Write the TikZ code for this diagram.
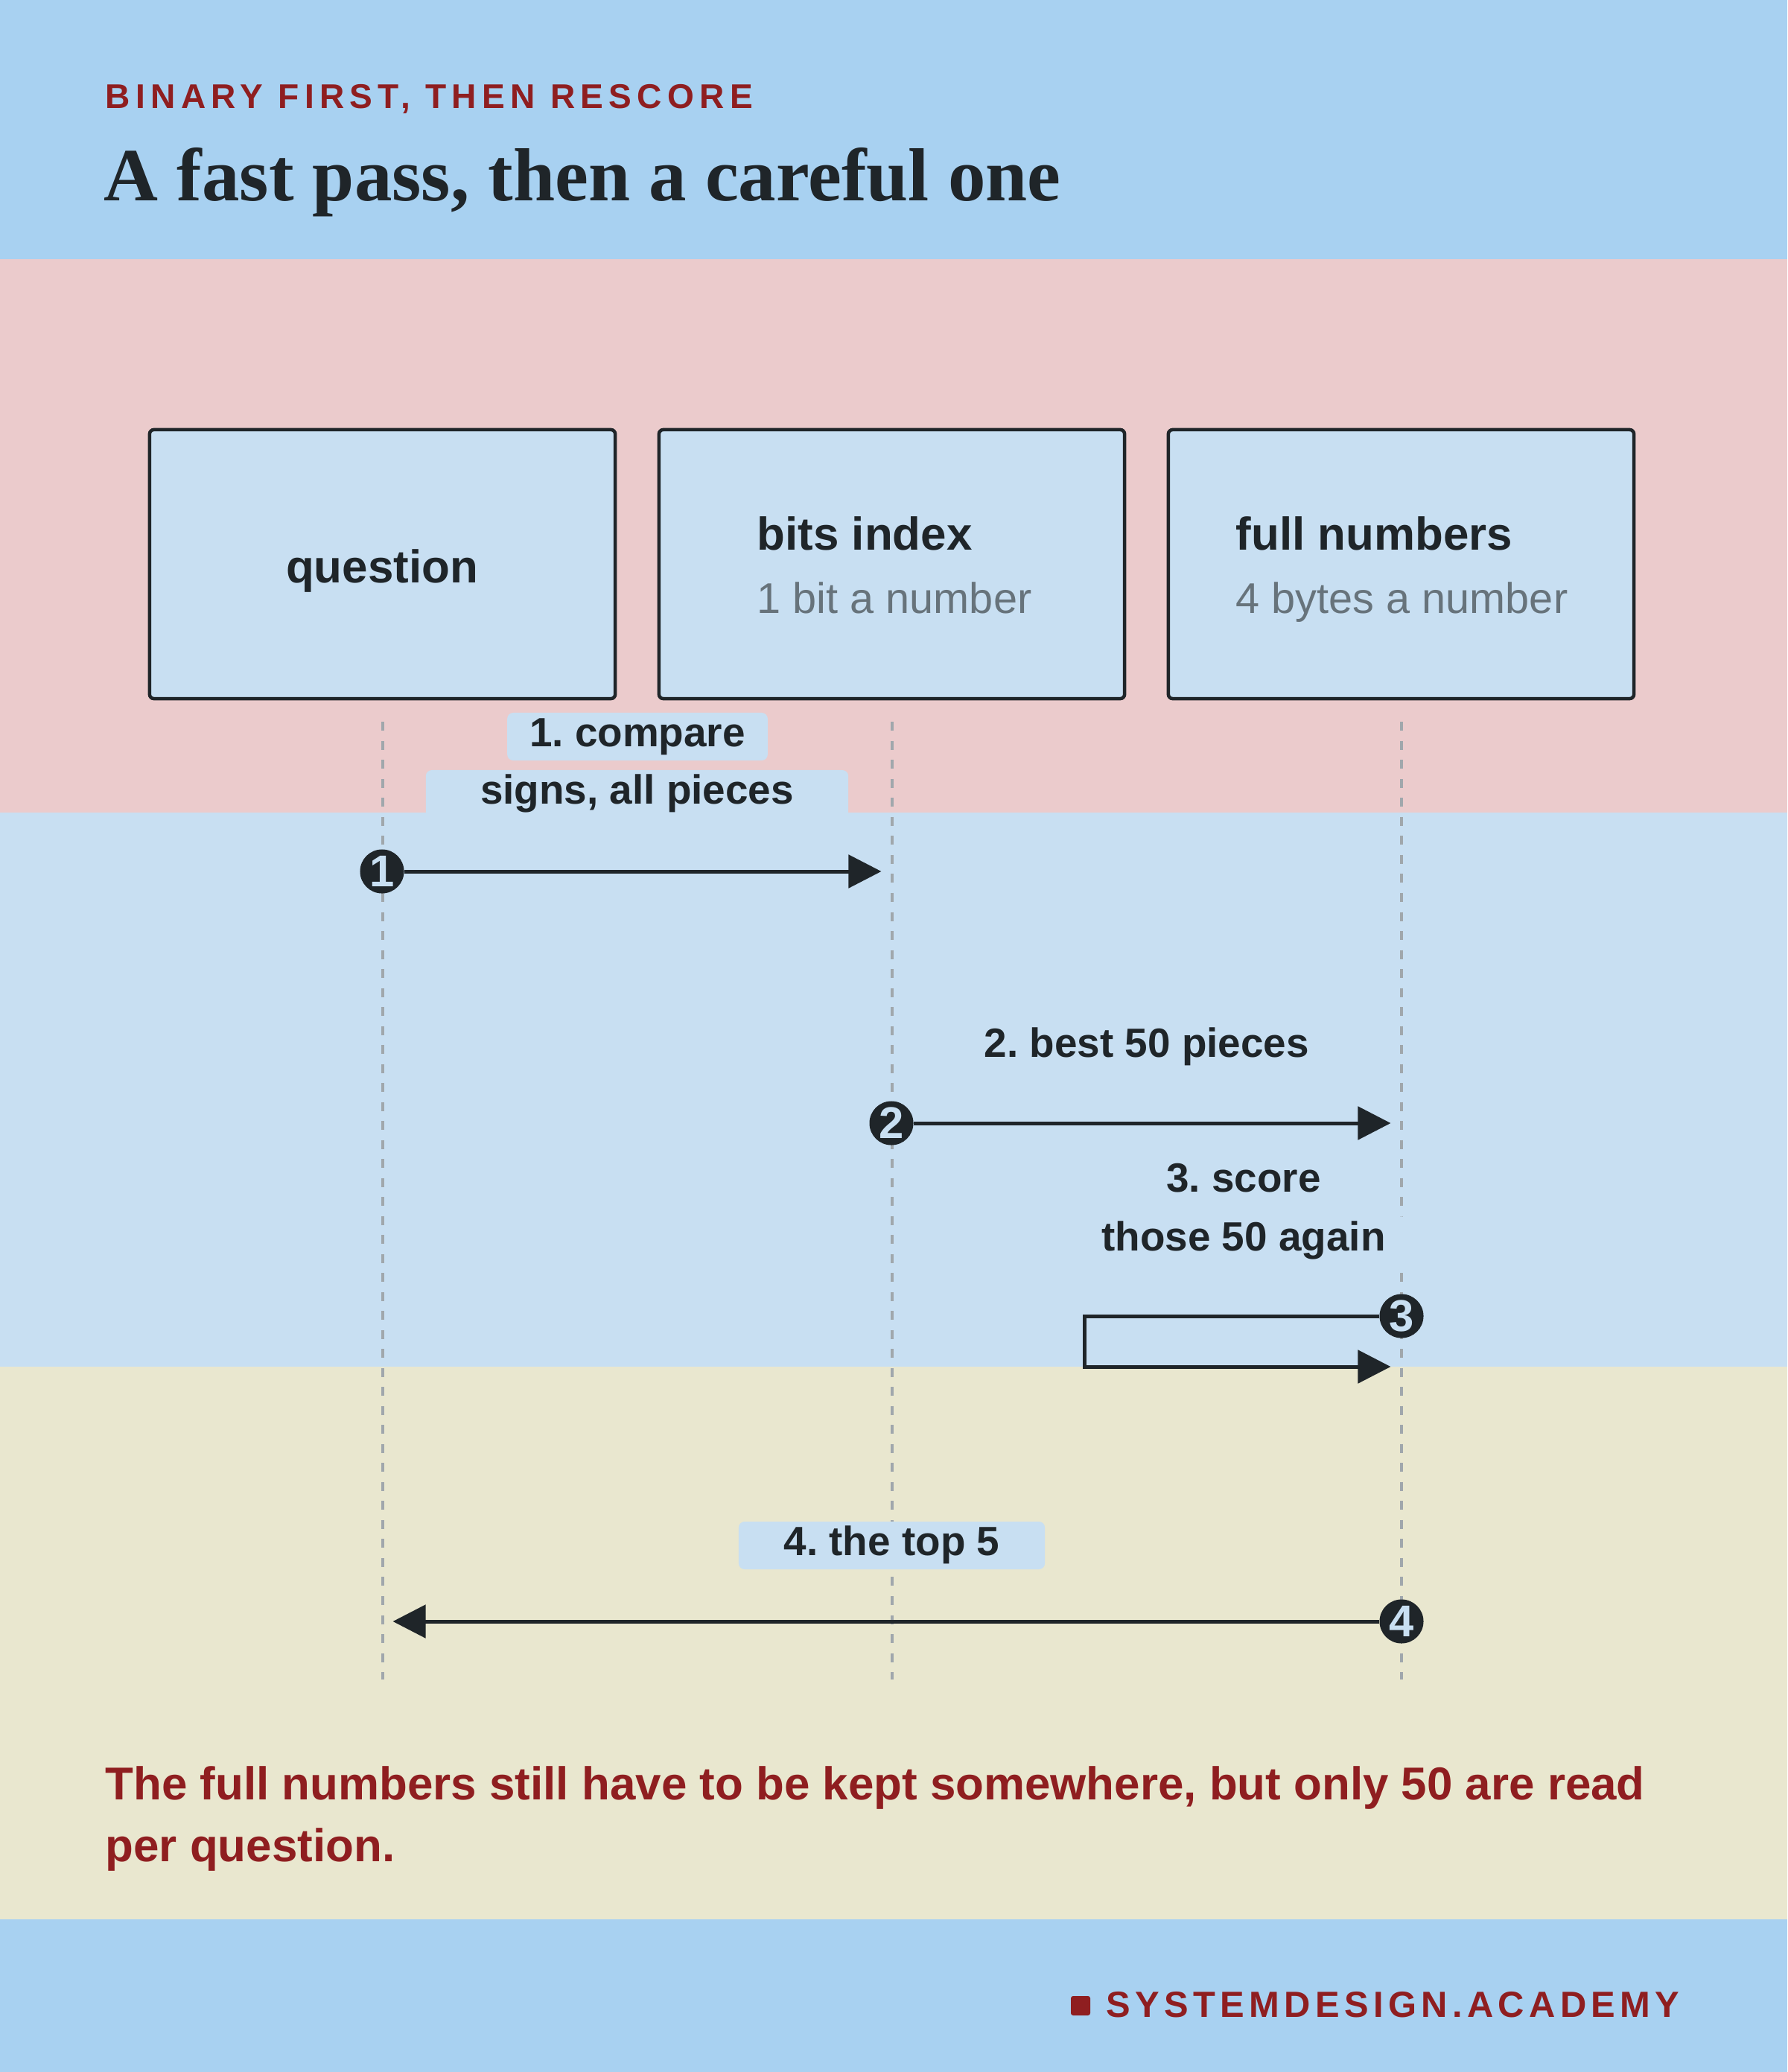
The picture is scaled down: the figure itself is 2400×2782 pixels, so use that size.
\documentclass[tikz,border=0pt]{standalone}
\usepackage{fontspec}
\setmainfont{Liberation Sans}
\newfontfamily\serifface{Liberation Serif}
\newfontfamily\spacedface[LetterSpace=13]{Liberation Sans}
\newfontfamily\kickerface[LetterSpace=16]{Liberation Sans}
\usetikzlibrary{arrows.meta}
\frenchspacing

\definecolor{skyband}{HTML}{A8D1F1}
\definecolor{pinkband}{HTML}{EBCBCC}
\definecolor{paleblue}{HTML}{C8DFF2}
\definecolor{sandband}{HTML}{E9E7CF}
\definecolor{ink}{HTML}{1F2529}
\definecolor{brick}{HTML}{8F1E20}
\definecolor{muted}{HTML}{67737B}
\definecolor{dashgray}{HTML}{A0A7AC}

\newcommand\hdrfont{\kickerface\bfseries\fontsize{13.1pt}{15pt}\selectfont}
\newcommand\ttlfont{\serifface\bfseries\fontsize{28.7pt}{32pt}\selectfont}
\newcommand\boxttl{\bfseries\fontsize{17.6pt}{20pt}\selectfont}
\newcommand\boxsub{\fontsize{16.4pt}{19pt}\selectfont}
\newcommand\lblfont{\bfseries\fontsize{15.6pt}{18pt}\selectfont}
\newcommand\footfont{\bfseries\fontsize{17.6pt}{23.6pt}\selectfont}
\newcommand\brandfnt{\spacedface\bfseries\fontsize{13.9pt}{16pt}\selectfont}

\tikzset{
  actor/.style={draw=ink, fill=paleblue, line width=0.045cm, rounded corners=0.06cm,
    minimum width=6.25cm, minimum height=3.61cm, inner sep=0},
  lifeline/.style={draw=dashgray, line width=0.04cm, dash pattern=on 0.12cm off 0.135cm},
  msg/.style={draw=ink, line width=0.05cm, -{Triangle[length=0.44cm, width=0.44cm]},
    shorten >=0.14cm},
  badge/.style={circle, fill=ink, text=paleblue, minimum size=0.59cm, inner sep=0,
    font=\bfseries\fontsize{17pt}{17pt}\selectfont},
  pill/.style={fill=paleblue, rounded corners=0.08cm, minimum height=0.64cm,
    inner xsep=0.3cm, inner ysep=0, text height=0.41cm, text depth=0.14cm,
    text=ink, font=\lblfont},
  words/.style={anchor=base west, inner sep=0},
}

\begin{document}
\begin{tikzpicture}[x=0.01cm, y=-0.01cm]
\useasboundingbox (0,0) rectangle (2400,2782);
% bands
\fill[skyband] (0,0) rectangle (2400,348);
\fill[pinkband] (0,348) rectangle (2400,1091);
\fill[paleblue] (0,1091) rectangle (2400,1835);
\fill[sandband] (0,1835) rectangle (2400,2577);
\fill[skyband] (0,2577) rectangle (2400,2782);

% heading
\node[words, text=brick, font=\hdrfont] (kicker) at (141,146) {BINARY FIRST, THEN RESCORE};
\node[words, text=ink, font=\ttlfont] (title) at (139,270) {A fast pass, then a careful one};

% participants
\node[actor] (question) at (513.5,757.5) {};
\node[actor] (bits) at (1197.5,757.5) {};
\node[actor] (full) at (1881.5,757.5) {};
\node[anchor=base, inner sep=0, text=ink, font=\boxttl] (question-t) at (513,782) {question};
\node[words, text=ink, font=\boxttl] (bits-t) at (1016,738) {bits index};
\node[words, text=muted, font=\boxsub] (bits-s) at (1016,823) {1 bit a number};
\node[words, text=ink, font=\boxttl] (full-t) at (1659,738) {full numbers};
\node[words, text=muted, font=\boxsub] (full-s) at (1659,823) {4 bytes a number};

\foreach \p in {question,bits,full}
  \draw[lifeline] (\p.south) ++(0,29) -- ++(0,1286);

% message labels
\node[pill, minimum width=3.48cm] (m1a) at (856,989) {1. compare};
\node[pill, minimum width=5.67cm] (m1b) at (855.5,1066) {signs, all pieces};
\node[pill] (m2) at (1540,1405.5) {2. best 50 pieces};
\node[pill] (m3a) at (1670,1586.5) {3. score};
\node[pill] (m3b) at (1670,1665.5) {those 50 again};
\node[pill, minimum width=4.11cm] (m4) at (1197.5,2075) {4. the top 5};

% messages
\node[badge] (b1) at (513,1170) {1};
\node[badge] (b2) at (1197,1508) {2};
\node[badge] (b3) at (1882,1767) {3};
\node[badge] (b4) at (1882,2177) {4};
\coordinate (loop) at (1456,1835);

\draw[msg] (b1) -- (bits.south |- b1);
\draw[msg] (b2) -- (full.south |- b2);
\draw[msg] (b3) -| (loop) -- (full.south |- loop);
\draw[msg] (b4) -- (question.south |- b4);

% footer
\node[words, text=brick, font=\footfont] (foot1) at (141,2416)
  {The full numbers still have to be kept somewhere, but only 50 are read};
\node[words, text=brick, font=\footfont] (foot2) at (141,2499) {per question.};
\node[fill=brick, minimum size=0.26cm, inner sep=0, rounded corners=0.03cm] (brand-sq) at (1451,2693) {};
\node[words, text=brick, font=\brandfnt] (brand) at (1485,2708) {SYSTEMDESIGN.ACADEMY};
\end{tikzpicture}
\end{document}
